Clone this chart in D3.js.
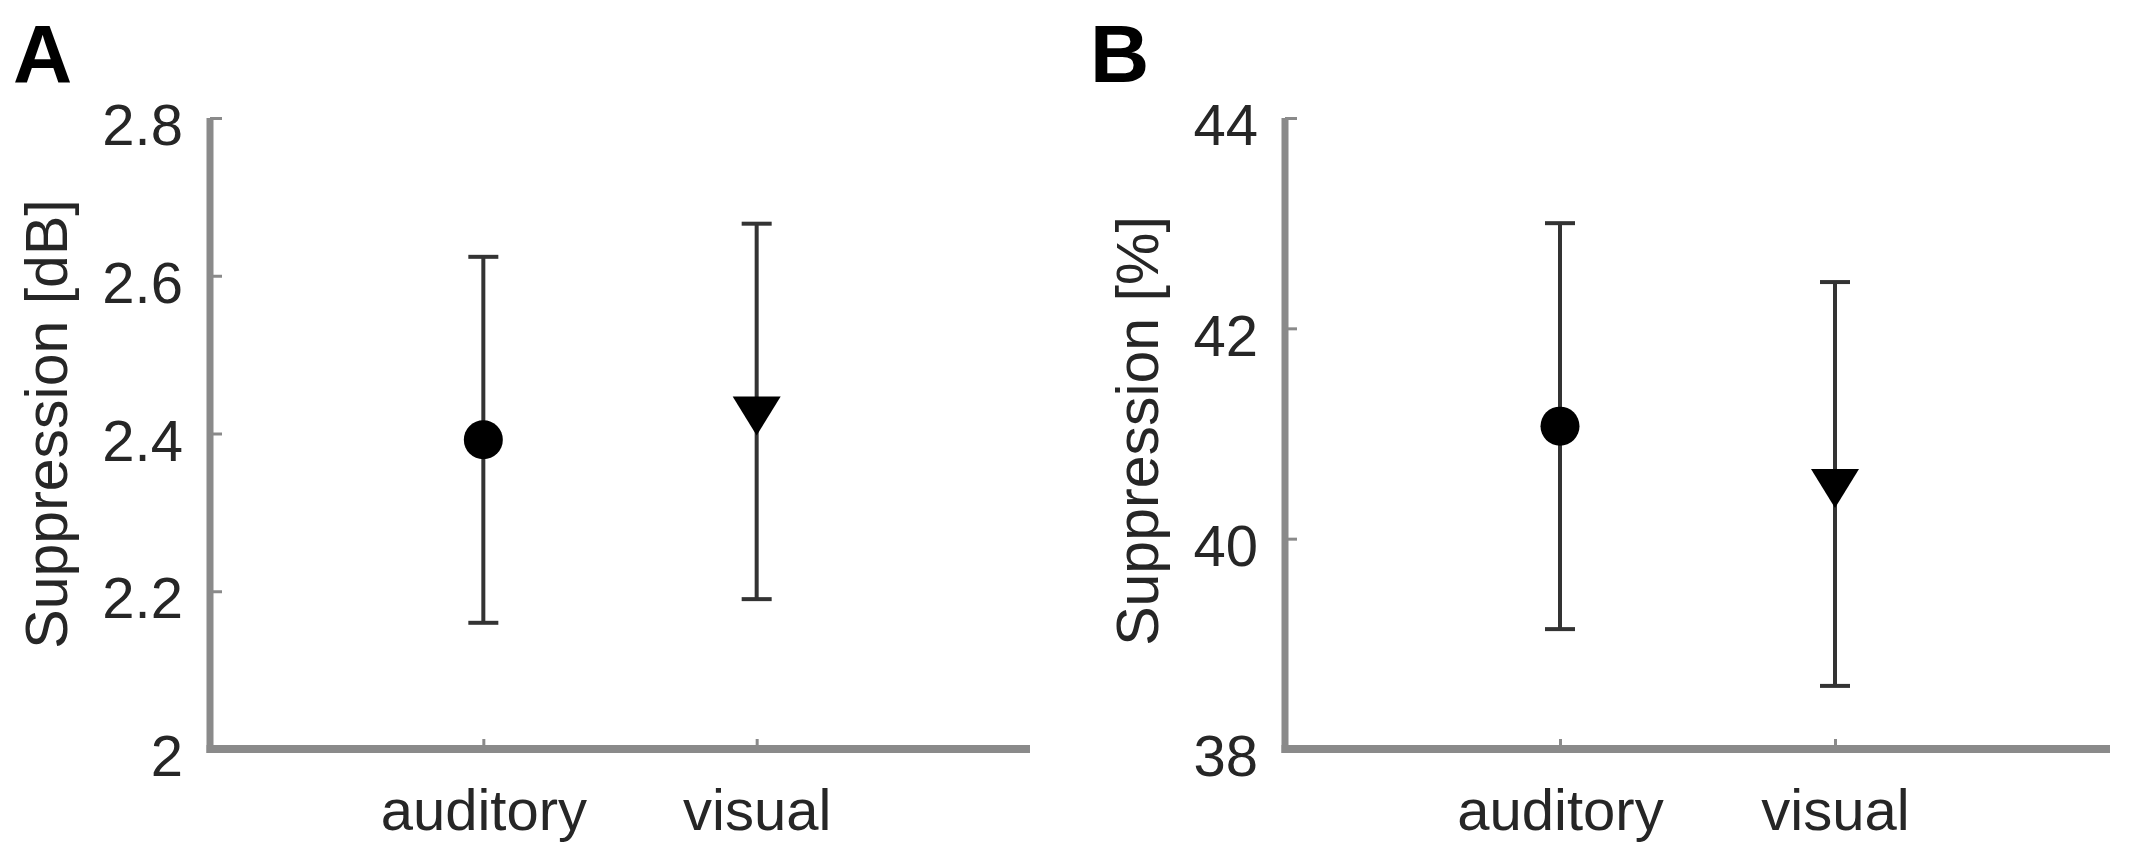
<!DOCTYPE html>
<html>
<head>
<meta charset="utf-8">
<script src="https://cdn.jsdelivr.net/npm/d3@7"></script>
<style>
  body { margin: 0; background: #fff; }
  svg text { font-family: "Liberation Sans", Arial, Helvetica, sans-serif; }
</style>
</head>
<body>
<div id="chart"></div>
<script>
// values
const categories = ["auditory", "visual"];
const dbMeans = [2.392, 2.428];
const dbErrors = [0.232, 0.238];
const pctMeans = [41.07, 40.52];
const pctErrors = [1.93, 1.92];
const dbTicks = [2, 2.2, 2.4, 2.6, 2.8];
const pctTicks = [38, 40, 42, 44];
const markerShapes = ["circle", "triangle"];

const W = 2131, H = 853;
const axisColor = "#8a8a8a";
const textColor = "#262626";

const svg = d3.select("#chart").append("svg")
    .attr("width", W)
    .attr("height", H);

svg.append("rect").attr("width", W).attr("height", H).attr("fill", "#fff");

function drawPanel(p) {
    let x = d3.scaleLinear()
        .domain([0, categories.length + 1])
        .range([p.left, p.right]);
    let y = d3.scaleLinear()
        .domain(p.domain)
        .range([p.bottom, p.top]);

    // panel letter
    svg.append("text")
        .attr("x", p.letterX)
        .attr("y", 82)
        .attr("font-size", 82)
        .attr("font-weight", "bold")
        .attr("fill", "#000")
        .text(p.letter);

    // y axis
    let gy = svg.append("g")
        .attr("transform", "translate(" + p.left + ",0)")
        .call(d3.axisLeft(y).tickValues(p.ticks).tickSize(-12).tickPadding(27).tickFormat(d => d));
    gy.select(".domain").remove();
    gy.selectAll(".tick line").attr("stroke", axisColor).attr("stroke-width", 3);
    gy.selectAll(".tick text")
        .attr("font-size", 58)
        .attr("fill", textColor)
        .attr("dy", "0.46em");

    // x axis
    let gx = svg.append("g")
        .attr("transform", "translate(0," + p.bottom + ")")
        .call(d3.axisBottom(x).tickValues(categories.map((c, i) => i + 1)).tickSize(-10)
            .tickFormat((d, i) => categories[i]));
    gx.select(".domain").remove();
    gx.selectAll(".tick line").attr("stroke", axisColor).attr("stroke-width", 3);
    gx.selectAll(".tick text")
        .attr("font-size", 58)
        .attr("fill", textColor)
        .attr("y", 81)
        .attr("dy", 0);

    // thick axis lines
    svg.append("line")
        .attr("x1", p.left).attr("x2", p.left)
        .attr("y1", p.top).attr("y2", p.bottom + 4)
        .attr("stroke", axisColor).attr("stroke-width", 7);
    svg.append("line")
        .attr("x1", p.left - 3.5).attr("x2", p.right)
        .attr("y1", p.bottom).attr("y2", p.bottom)
        .attr("stroke", axisColor).attr("stroke-width", 8);

    // y label
    svg.append("text")
        .attr("transform", "translate(" + p.labelX + "," + p.labelY + ") rotate(-90)")
        .attr("text-anchor", "middle")
        .attr("font-size", 59)
        .attr("fill", textColor)
        .text(p.label);

    // error bars
    let pts = p.means.map((m, i) => ({ cx: x(i + 1), m: m, e: p.errors[i], shape: markerShapes[i] }));
    let bars = svg.append("g");
    bars.selectAll(".stem")
        .data(pts).enter().append("line")
        .attr("x1", d => d.cx).attr("x2", d => d.cx)
        .attr("y1", d => y(d.m + d.e)).attr("y2", d => y(d.m - d.e))
        .attr("stroke", "#333").attr("stroke-width", 4);
    [1, -1].forEach(s => {
        bars.selectAll(".cap" + s)
            .data(pts).enter().append("line")
            .attr("x1", d => d.cx - 15).attr("x2", d => d.cx + 15)
            .attr("y1", d => y(d.m + s * d.e)).attr("y2", d => y(d.m + s * d.e))
            .attr("stroke", "#333").attr("stroke-width", 4);
    });

    // markers
    pts.forEach(d => {
        let cy = y(d.m);
        if (d.shape === "circle") {
            svg.append("circle")
                .attr("cx", d.cx).attr("cy", cy).attr("r", 19.5)
                .attr("fill", "#000");
        } else {
            svg.append("path")
                .attr("d", "M" + (d.cx - 24) + "," + (cy - 15) + "L" + (d.cx + 24) + "," + (cy - 15) +
                    "L" + d.cx + "," + (cy + 24) + "Z")
                .attr("fill", "#000");
        }
    });
}

drawPanel({
    letter: "A", letterX: 13,
    left: 210, right: 1030, top: 118, bottom: 749,
    domain: [2, 2.8], ticks: dbTicks,
    means: dbMeans, errors: dbErrors,
    label: "Suppression [dB]", labelX: 67, labelY: 424
});

drawPanel({
    letter: "B", letterX: 1090,
    left: 1285, right: 2110, top: 118, bottom: 749,
    domain: [38, 44], ticks: pctTicks,
    means: pctMeans, errors: pctErrors,
    label: "Suppression [%]", labelX: 1158, labelY: 431
});
</script>
</body>
</html>
